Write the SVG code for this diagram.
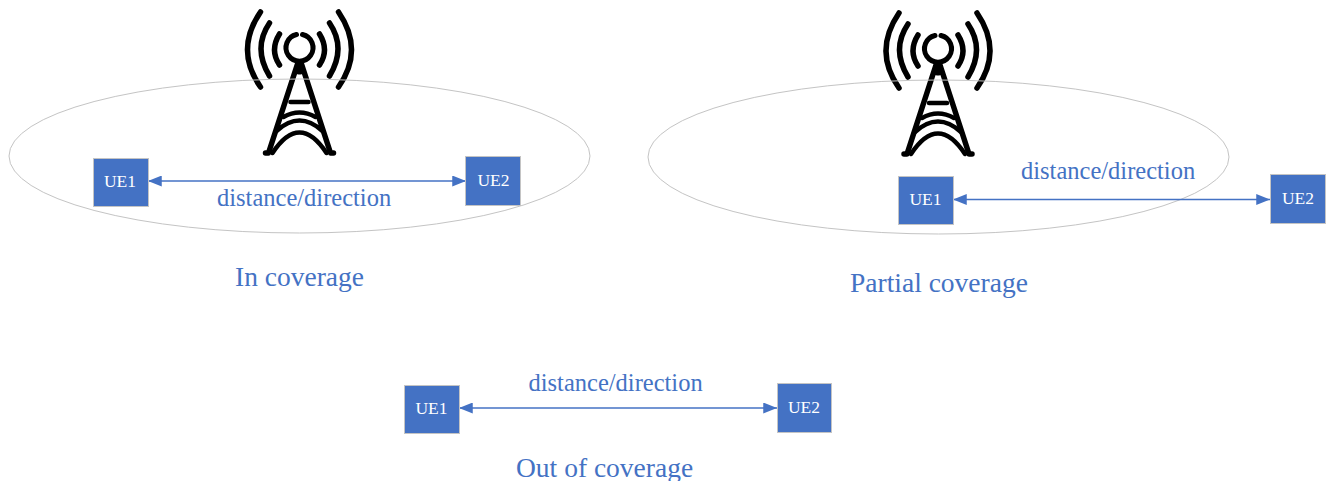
<svg xmlns="http://www.w3.org/2000/svg" width="1330" height="481" viewBox="0 0 1330 481">
<style>
text{font-family:"Liberation Serif","Times New Roman",serif;fill:#4472c4}
.lab{font-size:24.500px}
.cap{font-size:27.500px}
.ue{fill:#fff;font-size:17.500px;text-anchor:middle}
.box{fill:#4472c4;stroke:#c4c4c4;stroke-width:1}
.ell{fill:none;stroke:#c4c4c4;stroke-width:1}
.wire{fill:none;stroke:#4472c4;stroke-width:1.500;marker-start:url(#a);marker-end:url(#a)}
.ico{fill:none;stroke:#000;stroke-linecap:round;stroke-linejoin:round}
</style>
<defs>
<marker id="a" viewBox="0 0 10 8" markerWidth="15" markerHeight="11" refX="10" refY="4" orient="auto-start-reverse" markerUnits="userSpaceOnUse"><path d="M0 0L10 4L0 8Z" fill="#4472c4"/></marker>
<g id="tower" class="ico">
<path stroke-width="5" d="M3-15.500A13.500 13.500 0 1 1-3-15.500"/>
<g stroke-width="5.500">
<path d="M-20-16Q-30 0-20 15M20-16Q30 0 20 15"/>
<path d="M-30-27Q-47-2-30 26M30-27Q47-2 30 26"/>
<path d="M-39-38Q-65 0-39 37M39-38Q65 0 39 37"/>
<path d="M-2 14L-31 103H-34M2 14L31 103H34"/>
<path d="M-1 14V22M1 14V22" stroke-width="5"/>
</g>
<g stroke-width="4.500">
<path d="M-9 52H9"/>
<path d="M-16 67Q0 58 16 67"/>
<path d="M-23 81Q0 60 23 81"/>
<path d="M-27 103Q0 62 27 103"/>
</g>
</g>
</defs>
<g id="tower1"><use href="#tower" x="299.500" y="50"/></g>
<g id="tower2"><use href="#tower" x="938" y="51"/></g>
<g id="coverage1"><ellipse class="ell" cx="299.500" cy="156" rx="290.500" ry="77"/></g>
<g id="coverage2"><ellipse class="ell" cx="938.500" cy="157" rx="290.500" ry="77"/></g>
<g id="connectors">
<path class="wire" d="M148 181H466"/>
<path class="wire" d="M953 199.500H1270"/>
<path class="wire" d="M459 408H777"/>
</g>
<g id="a-ue1"><rect class="box" x="93.500" y="158.500" width="55" height="48"/><text class="ue" x="120" y="187">UE1</text></g>
<g id="a-ue2"><rect class="box" x="465.500" y="156.500" width="55" height="49"/><text class="ue" x="493.500" y="186">UE2</text></g>
<g id="b-ue1"><rect class="box" x="898.500" y="176.500" width="55" height="48"/><text class="ue" x="925.500" y="205">UE1</text></g>
<g id="b-ue2"><rect class="box" x="1270.500" y="174.500" width="55" height="49"/><text class="ue" x="1298" y="204">UE2</text></g>
<g id="c-ue1"><rect class="box" x="404.500" y="385.500" width="55" height="48"/><text class="ue" x="431.500" y="414">UE1</text></g>
<g id="c-ue2"><rect class="box" x="777.500" y="383.500" width="54" height="49"/><text class="ue" x="804" y="413">UE2</text></g>
<text class="lab" x="217" y="205.500">distance/direction</text>
<text class="lab" x="1021" y="178.500">distance/direction</text>
<text class="lab" x="528.500" y="390.500">distance/direction</text>
<text class="cap" x="235" y="286">In coverage</text>
<text class="cap" x="850" y="292">Partial coverage</text>
<text class="cap" x="516" y="477">Out of coverage</text>
</svg>
